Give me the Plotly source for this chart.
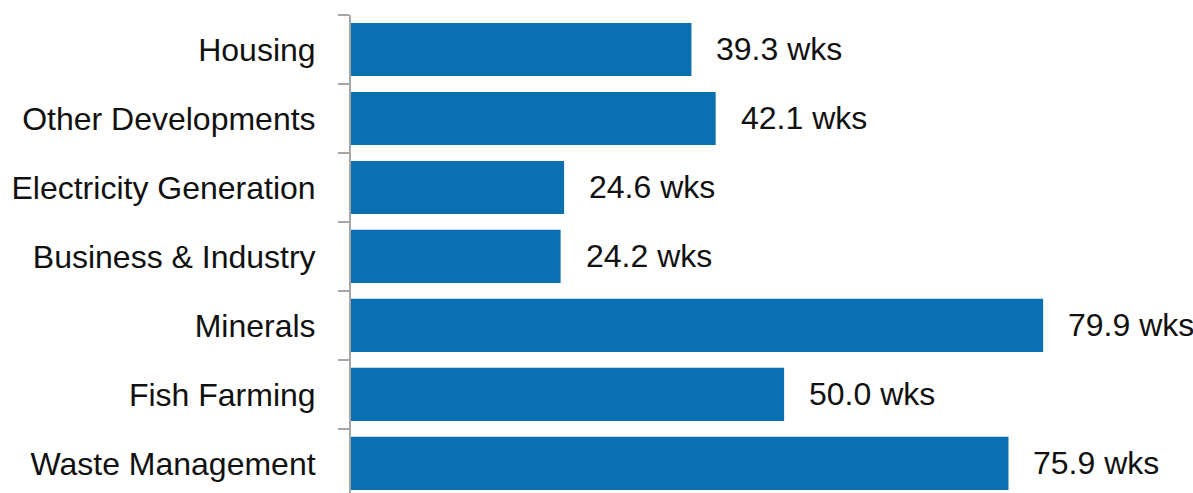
import plotly.graph_objects as go

categories = [
    "Housing",
    "Other Developments",
    "Electricity Generation",
    "Business & Industry",
    "Minerals",
    "Fish Farming",
    "Waste Management",
]
weeks = [39.3, 42.1, 24.6, 24.2, 79.9, 50.0, 75.9]
value_labels = [f"{v:.1f} wks" for v in weeks]

BAR_COLOR = "#0A70B2"
AXIS_COLOR = "#A6A6A6"
FONT = "Liberation Sans, Arial, sans-serif"
FONT_SIZE = 32

fig = go.Figure(
    go.Bar(
        x=weeks,
        y=categories,
        orientation="h",
        width=0.77,
        marker=dict(color=BAR_COLOR, line=dict(width=0)),
        hoverinfo="skip",
    )
)

for cat, v, lbl in zip(categories, weeks, value_labels):
    fig.add_annotation(
        x=v, y=cat, text=lbl, showarrow=False,
        xanchor="left", yanchor="middle", xshift=23,
        font=dict(family=FONT, size=FONT_SIZE, color="#111111"),
    )

fig.update_layout(
    width=1193, height=493,
    margin=dict(l=351, r=0, t=15, b=0),
    paper_bgcolor="white", plot_bgcolor="white",
    showlegend=False,
    font=dict(family=FONT, size=FONT_SIZE, color="#111111"),
)
fig.update_xaxes(range=[0, 97.2], visible=False, fixedrange=True)
fig.update_yaxes(
    type="category",
    categoryorder="array", categoryarray=categories,
    range=[6.43, -0.5],
    showline=True, linecolor=AXIS_COLOR, linewidth=2,
    ticks="outside", tickson="boundaries", ticklen=11, tickwidth=2, tickcolor=AXIS_COLOR,
    ticklabelstandoff=27,
    showgrid=False, zeroline=False,
    tickfont=dict(family=FONT, size=FONT_SIZE, color="#111111"),
)

fig.write_html("out.html")
